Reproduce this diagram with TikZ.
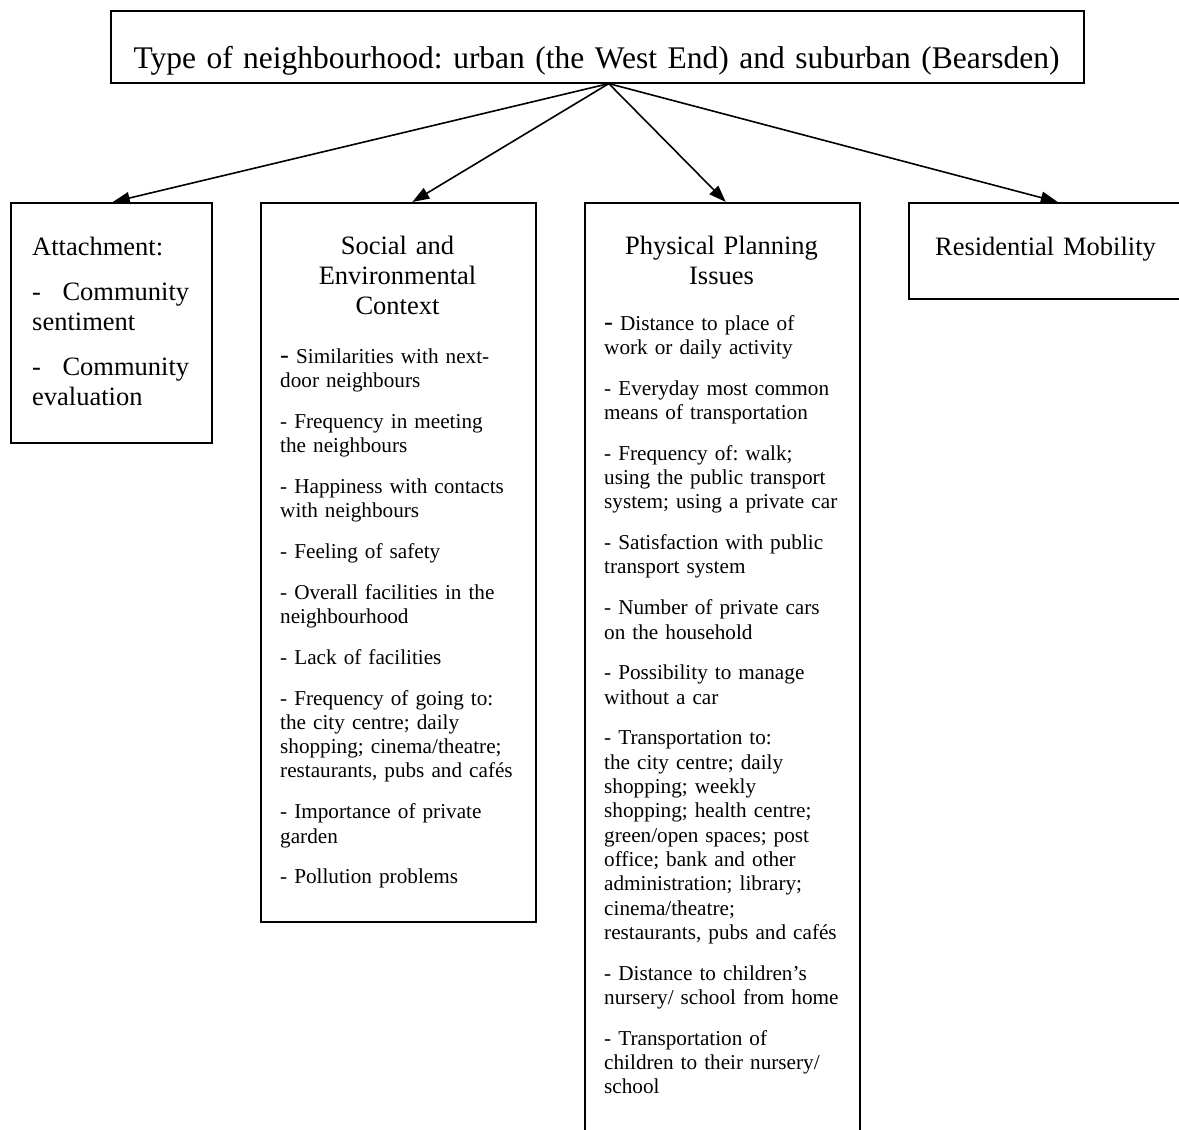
\documentclass[tikz,border=0pt]{standalone}
\usepackage{fontspec}
\setmainfont{Liberation Serif}
\usetikzlibrary{arrows.meta,positioning,calc}

\newcommand{\leaddash}{{\fontsize{26.5}{24.3}\selectfont-}}
\def\itemgap{16.5pt}

\begin{document}
\frenchspacing
\begin{tikzpicture}[
  x=1pt,y=-1pt,
  >={Triangle[length=17pt,width=12pt]},
  box/.style={draw,line width=1.6pt,anchor=north west,inner sep=0pt},
  head/.style={font=\fontsize{26.5}{30}\selectfont,inner sep=0pt,
               align=center,anchor=base,text width=250pt},
  item/.style={font=\fontsize{21.2}{24.3}\selectfont,inner sep=0pt,
               align=left,anchor=base west,text width=250pt},
  arr/.style={->,line width=1.6pt},
]

\useasboundingbox (0,0) rectangle (1179,1130);
\clip (0,0) rectangle (1179,1130);

%% ── Top: type of neighbourhood ─────────────────────────────────────────────
\node[box,minimum width=973pt,minimum height=72pt] (top) at (110,10) {};
\node[head,font=\fontsize{31.5}{36}\selectfont,text width=973pt] (toptxt)
  at (596.5,68) {Type of neighbourhood: urban (the West End) and suburban (Bearsden)};

%% ── Attachment ─────────────────────────────────────────────────────────────
\node[box,minimum width=201pt,minimum height=240pt] (att) at (10,202) {};
\node[head,anchor=base west,align=left,text width=157pt] (atttxt) at (32,255)
  {Attachment:\\[15pt]
   -\hspace{\fill}Community\\sentiment\\[15pt]
   -\hspace{\fill}Community\\evaluation};

%% ── Social and environmental context ───────────────────────────────────────
\node[box,minimum width=275pt,minimum height=719pt] (soc) at (260,202) {};
\node[head] (soctitle) at (397.5,254) {Social and\\Environmental\\Context};
\node[item] (soclist) at (280,363)
  {\leaddash{} Similarities with next-\\door neighbours\\[\itemgap]
   - Frequency in meeting\\the neighbours\\[\itemgap]
   - Happiness with contacts\\with neighbours\\[\itemgap]
   - Feeling of safety\\[\itemgap]
   - Overall facilities in the\\neighbourhood\\[\itemgap]
   - Lack of facilities\\[\itemgap]
   - Frequency of going to:\\the city centre; daily\\shopping; cinema/theatre;\\restaurants, pubs and cafés\\[\itemgap]
   - Importance of private\\garden\\[\itemgap]
   - Pollution problems};

%% ── Physical planning issues ───────────────────────────────────────────────
\node[box,minimum width=275pt,minimum height=950pt] (phy) at (584,202) {};
\node[head] (phytitle) at (721.5,254) {Physical Planning\\Issues};
\node[item] (phylist) at (604,330)
  {\leaddash{} Distance to place of\\work or daily activity\\[\itemgap]
   - Everyday most common\\means of transportation\\[\itemgap]
   - Frequency of: walk;\\using the public transport\\system; using a private car\\[\itemgap]
   - Satisfaction with public\\transport system\\[\itemgap]
   - Number of private cars\\on the household\\[\itemgap]
   - Possibility to manage\\without a car\\[\itemgap]
   - Transportation to:\\the city centre; daily\\shopping; weekly\\shopping; health centre;\\green/open spaces; post\\office; bank and other\\administration; library;\\cinema/theatre;\\restaurants, pubs and cafés\\[\itemgap]
   - Distance to children’s\\nursery/ school from home\\[\itemgap]
   - Transportation of\\children to their nursery/\\school};

%% ── Residential mobility ───────────────────────────────────────────────────
\node[box,minimum width=290pt,minimum height=96pt] (res) at (908,202) {};
\node[head] (restxt) at (1045.5,255) {Residential Mobility};

%% ── Arrows from the top box ────────────────────────────────────────────────
\coordinate (apex) at ([xshift=11.5pt]top.south);
\draw[arr] (apex) -- ([xshift=1.5pt]att.north);
\draw[arr] (apex) -- ([xshift=14pt]soc.north);
\draw[arr] (apex) -- ([xshift=3.5pt]phy.north);
\draw[arr] (apex) -- ([xshift=4pt]res.north);

\end{tikzpicture}
\end{document}
